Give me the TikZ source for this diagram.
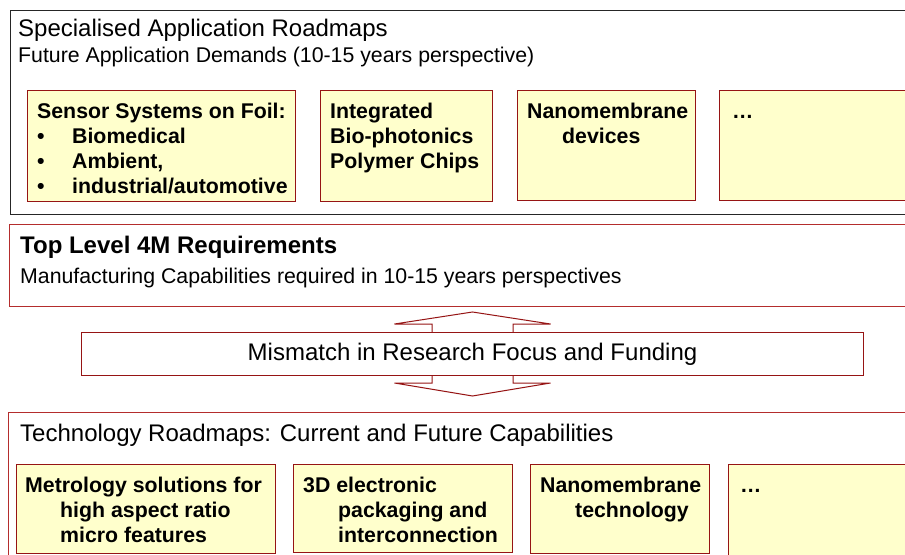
\documentclass[tikz,border=0pt]{standalone}
\usepackage{fontspec}
\setmainfont{Liberation Sans}
\usetikzlibrary{calc}

\definecolor{boxred}{RGB}{150,20,20}
\definecolor{panelred}{RGB}{180,45,45}
\definecolor{notefill}{RGB}{255,255,204}

\newcommand{\headfont}{\fontsize{24bp}{28bp}\selectfont}
\newcommand{\itemfont}{\fontsize{21.3bp}{25bp}\selectfont}

\begin{document}
\begin{tikzpicture}[
    x=1bp, y=-1bp,
    % Styles for the panels and boxes
    frame/.style={draw=black!85, line width=1bp},
    redframe/.style={draw=panelred, line width=1bp},
    note/.style={rectangle, draw=boxred, fill=notefill, line width=1bp, anchor=north west, inner sep=0pt},
    notetext/.style={anchor=north west, inner sep=0pt, align=left, font=\itemfont\bfseries},
    heading/.style={anchor=base west, inner sep=0pt, font=\headfont},
    subheading/.style={anchor=base west, inner sep=0pt, font=\itemfont}
]
    \useasboundingbox (0,0) rectangle (905,555);
    \clip (0,0) rectangle (905,555);

    % =========================================================================
    % 1. APPLICATION ROADMAPS
    % =========================================================================
    \draw[frame] (10,11) rectangle (915,215);
    \node[heading] (apptitle) at (18,37) {Specialised Application Roadmaps};
    \node[subheading] (appsub) at (18,63) {Future Application Demands (10-15 years perspective)};

    \node[note, minimum width=268bp, minimum height=111bp] (foil) at (27,90) {};
    \node[notetext] at ([shift={(10,10.5)}]foil.north west)
        {\strut Sensor Systems on Foil:\\
         \makebox[35bp][l]{\textbullet}Biomedical\\
         \makebox[35bp][l]{\textbullet}Ambient,\\
         \makebox[35bp][l]{\textbullet}industrial/automotive};

    \node[note, minimum width=172bp, minimum height=111bp] (photonics) at (320,90) {};
    \node[notetext] at ([shift={(10,10.5)}]photonics.north west)
        {\strut Integrated\\ Bio-photonics\\ Polymer Chips};

    \node[note, minimum width=178bp, minimum height=110bp] (devices) at (517,90) {};
    \node[notetext] at ([shift={(10,10.5)}]devices.north west)
        {\strut Nanomembrane\\ \hspace*{35bp}devices};

    \node[note, minimum width=200bp, minimum height=110bp] (moreapps) at (719,90) {};
    \node[notetext] at ([shift={(13,10.5)}]moreapps.north west) {\strut …};

    % =========================================================================
    % 2. TOP LEVEL REQUIREMENTS
    % =========================================================================
    \draw[redframe] (9,225) rectangle (915,307);
    \node[heading, font=\headfont\bfseries] (reqtitle) at (20,254) {Top Level 4M Requirements};
    \node[subheading] (reqsub) at (20,284) {Manufacturing Capabilities required in 10-15 years perspectives};

    % =========================================================================
    % 3. MISMATCH WITH DOUBLE BLOCK ARROW
    % =========================================================================
    \coordinate (focus) at (472.5,354);
    \draw[draw=boxred, line width=1bp, fill=white] ($(focus)+(0,-42)$) -- ++(78,12) -- ++(-37.5,0) -- ++(0,59)
        -- ++(37.5,0) -- ++(-78,13) -- ++(-78,-13) -- ++(37.5,0) -- ++(0,-59) -- ++(-37.5,0) -- cycle;
    \node[draw=boxred, line width=1bp, fill=white, rectangle, minimum width=781bp, minimum height=42bp, font=\headfont]
        (mismatch) at (focus) {Mismatch in Research Focus and Funding};

    % =========================================================================
    % 4. TECHNOLOGY ROADMAPS
    % =========================================================================
    \draw[redframe] (8,412) rectangle (915,570);
    \node[heading] (techtitle) at (20,441) {Technology Roadmaps: Current and Future Capabilities};

    \node[note, minimum width=259bp, minimum height=89bp] (metrology) at (16,464) {};
    \node[notetext] at ([shift={(9,10.5)}]metrology.north west)
        {\strut Metrology solutions for\\ \hspace*{35bp}high aspect ratio\\ \hspace*{35bp}micro features};

    \node[note, minimum width=219bp, minimum height=88bp] (packaging) at (293,464) {};
    \node[notetext] at ([shift={(10,10.5)}]packaging.north west)
        {\strut 3D electronic\\ \hspace*{35bp}packaging and\\ \hspace*{35bp}interconnection};

    \node[note, minimum width=179bp, minimum height=89bp] (membrane) at (530,464) {};
    \node[notetext] at ([shift={(10,10.5)}]membrane.north west)
        {\strut Nanomembrane\\ \hspace*{35bp}technology};

    \node[note, minimum width=200bp, minimum height=100bp] (moretech) at (728,464) {};
    \node[notetext] at ([shift={(12,10.5)}]moretech.north west) {\strut …};

\end{tikzpicture}
\end{document}
